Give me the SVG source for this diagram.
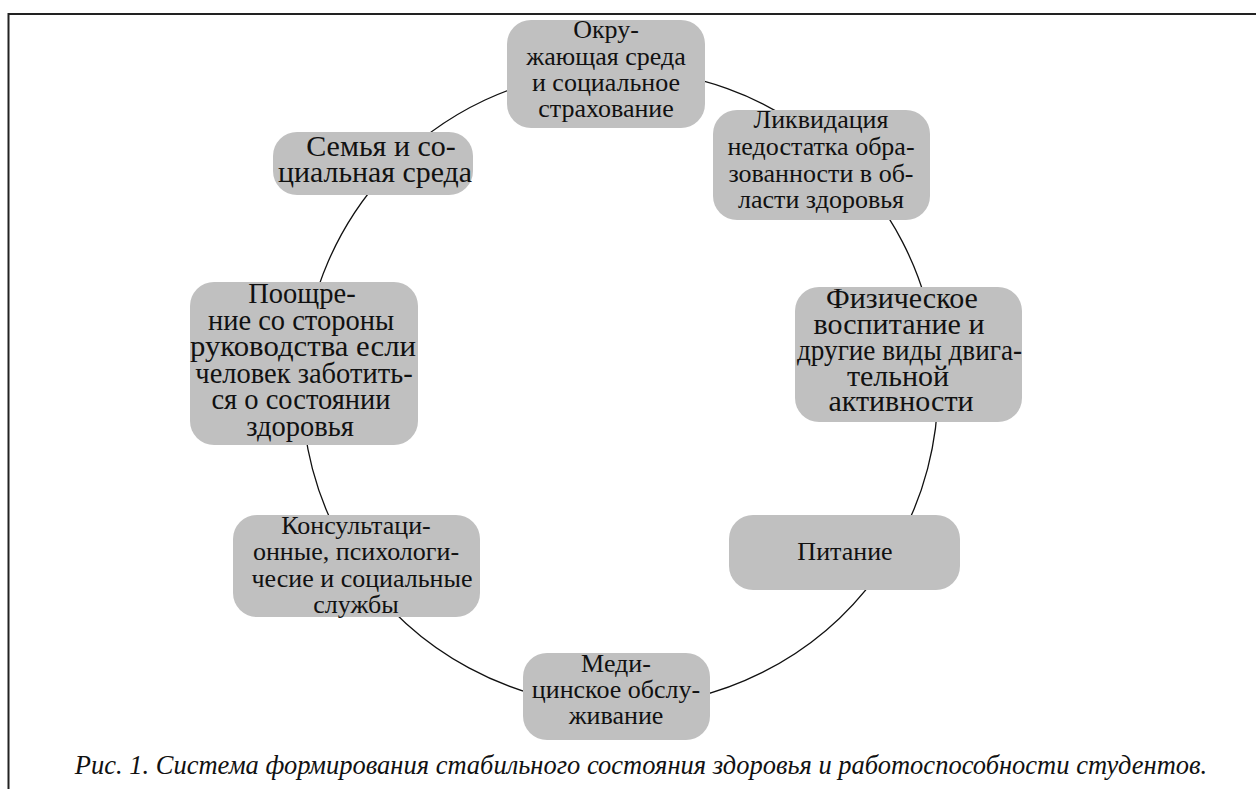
<svg xmlns="http://www.w3.org/2000/svg" width="1256" height="789" viewBox="0 0 1256 789">
<style>
.box{fill:#c0c0c0;stroke:none}
.t{font-family:'Liberation Serif','DejaVu Serif',serif;font-size:26px;fill:#111;text-anchor:middle}
.t30{font-size:30px}
.t28{font-size:28.5px}
.conn{fill:none;stroke:#111;stroke-width:1.3}
.frame{stroke:#222;stroke-width:2;fill:none}
.cap{font-family:'Liberation Serif','DejaVu Serif',serif;font-size:26.5px;font-style:italic;fill:#111;text-anchor:middle}
</style>
<rect width="1256" height="789" fill="#fff"/>
<g id="frame">
<path class="frame" d="M8.5 789 V14 H1256"/>
</g>
<g id="connectors">
<path class="conn" d="M605.8 70.3 A318 318 0 0 1 832.9 151.8"/>
<path class="conn" d="M832.9 151.8 A318 318 0 0 1 935.8 350.7"/>
<path class="conn" d="M935.8 350.7 A318 318 0 0 1 877 575.3"/>
<path class="conn" d="M877 575.3 A318 318 0 0 1 616 706"/>
<path class="conn" d="M616 706 A318 318 0 0 1 356.3 565.8"/>
<path class="conn" d="M356.3 565.8 A318 318 0 0 1 303 362.9"/>
<path class="conn" d="M303 362.9 A318 318 0 0 1 384.9 173.8"/>
<path class="conn" d="M384.9 173.8 A318 318 0 0 1 605.8 70.3"/>
</g>
<g id="node-environment">
<rect class="box" x="507" y="20" width="198" height="108" rx="24"/>
<text class="t"><tspan x="606" y="38">Окру-</tspan><tspan x="606" y="65">жающая среда</tspan><tspan x="606" y="91">и социальное</tspan><tspan x="606" y="117">страхование</tspan></text>
</g>
<g id="node-education">
<rect class="box" x="713" y="110" width="217" height="110" rx="24"/>
<text class="t"><tspan x="821" y="128">Ликвидация</tspan><tspan x="821" y="155">недостатка обра-</tspan><tspan x="821" y="182">зованности в об-</tspan><tspan x="821" y="208">ласти здоровья</tspan></text>
</g>
<g id="node-physical">
<rect class="box" x="795" y="287" width="227" height="135" rx="24"/>
<text class="t t30"><tspan x="902" y="308">Физическое</tspan><tspan x="899" y="334">воспитание и</tspan><tspan x="909.5" y="360" textLength="225" lengthAdjust="spacingAndGlyphs">другие виды двига-</tspan><tspan x="898" y="386">тельной</tspan><tspan x="901" y="411">активности</tspan></text>
</g>
<g id="node-nutrition">
<rect class="box" x="729" y="515" width="231" height="75" rx="24"/>
<text class="t" x="845" y="560">Питание</text>
</g>
<g id="node-medical">
<rect class="box" x="523" y="653" width="187" height="87" rx="24"/>
<text class="t"><tspan x="616" y="672">Меди-</tspan><tspan x="616" y="698">цинское обслу-</tspan><tspan x="616" y="724">живание</tspan></text>
</g>
<g id="node-services">
<rect class="box" x="233" y="515" width="247" height="102" rx="24"/>
<text class="t"><tspan x="356" y="534">Консультаци-</tspan><tspan x="356" y="560">онные, психологи-</tspan><tspan x="362" y="587">чесие и социальные</tspan><tspan x="356" y="613">службы</tspan></text>
</g>
<g id="node-encouragement">
<rect class="box" x="190" y="282" width="228" height="163" rx="24"/>
<text class="t t28"><tspan x="302" y="303">Поощре-</tspan><tspan x="301" y="330">ние со стороны</tspan><tspan x="303" y="356" textLength="226" lengthAdjust="spacingAndGlyphs">руководства если</tspan><tspan x="304" y="383">человек заботить-</tspan><tspan x="301" y="409">ся о состоянии</tspan><tspan x="300" y="436">здоровья</tspan></text>
</g>
<g id="node-family">
<rect class="box" x="273" y="132" width="200" height="63" rx="24"/>
<text class="t t30"><tspan x="381" y="156">Семья и со-</tspan><tspan x="375" y="182" textLength="194" lengthAdjust="spacingAndGlyphs">циальная среда</tspan></text>
</g>
<text class="cap" x="641" y="774">Рис. 1. Система формирования стабильного состояния здоровья и работоспособности студентов.</text>
</svg>
